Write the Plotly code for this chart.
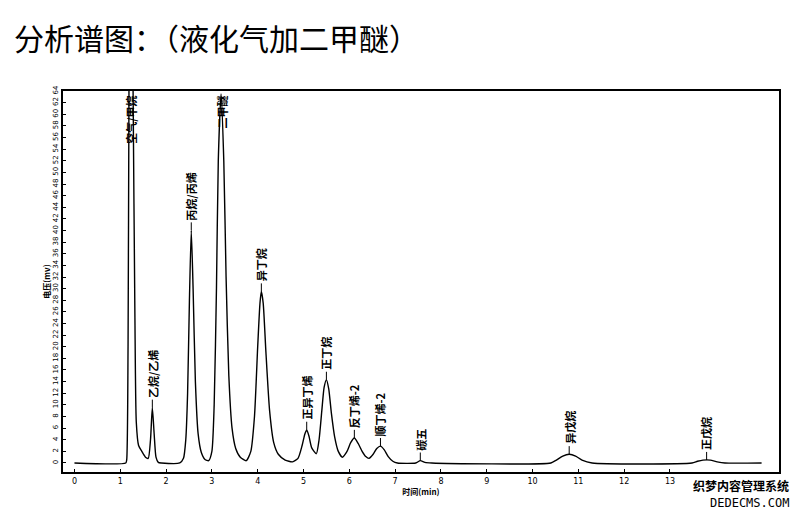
import plotly.graph_objects as go

# Chromatogram trace (time in min, signal in mV)
time_min = [0.00, 1.12, 1.14, 1.17, 1.19, 1.21, 1.26, 1.28, 1.32, 1.35, 1.40, 1.47, 1.55, 1.61,
            1.66, 1.70, 1.74, 1.78, 1.83, 1.90,
            2.30, 2.38, 2.43, 2.47, 2.51, 2.55, 2.59, 2.64, 2.70, 2.77, 2.85, 2.93,
            3.00, 3.05, 3.10, 3.14, 3.20, 3.26, 3.31, 3.37, 3.44, 3.52, 3.62, 3.75,
            3.85, 3.93, 4.00, 4.05, 4.08, 4.12, 4.18, 4.26, 4.35, 4.45, 4.60, 4.76,
            4.88, 4.97, 5.03, 5.07, 5.12, 5.18, 5.28,
            5.34, 5.40, 5.45, 5.50, 5.55, 5.61, 5.68, 5.76, 5.85,
            5.95, 6.03, 6.11, 6.19, 6.28, 6.36, 6.43,
            6.52, 6.60, 6.68, 6.76, 6.85, 6.95, 7.05,
            7.45, 7.55, 7.65, 7.80,
            10.40, 10.52, 10.66, 10.80, 10.94, 11.08, 11.30,
            13.48, 13.60, 13.72, 13.88, 14.03, 14.20, 15.00]
signal_mv = [0.0, 0.0, 0.5, 20.0, 64.0, 85.0, 85.0, 64.0, 25.0, 7.0, 3.0, 2.0, 1.0, 0.8,
             4.0, 9.5, 5.0, 1.0, 0.1, 0.0,
             0.0, 0.8, 4.0, 12.0, 28.0, 40.0, 30.0, 14.0, 5.0, 1.8, 0.6, 0.4,
             2.0, 10.0, 30.0, 52.0, 63.5, 52.0, 32.0, 15.0, 6.0, 2.5, 1.0, 0.4,
             2.0, 8.0, 20.0, 27.5, 29.5, 27.5, 19.0, 9.0, 3.5, 1.5, 0.5, 0.2,
             0.8, 3.0, 5.0, 5.7, 4.6, 2.6, 1.6,
             4.0, 9.0, 13.0, 14.3, 12.8, 8.5, 4.5, 2.0, 1.0,
             2.0, 3.5, 4.3, 3.4, 2.0, 1.1, 0.8,
             1.5, 2.5, 2.9, 2.3, 1.1, 0.3, 0.0,
             0.0, 0.4, 0.1, 0.0,
             0.0, 0.5, 1.2, 1.5, 1.2, 0.5, 0.0,
             0.0, 0.3, 0.5, 0.5, 0.2, 0.0, 0.0]

# Peak labels
peak_names = ["空气/甲烷", "乙烷/乙烯", "丙烷/丙烯", "二甲醚", "异丁烷", "正异丁烯", "正丁烷",
              "反丁烯-2", "顺丁烯-2", "碳五", "异戊烷", "正戊烷"]
peak_times = [1.23, 1.70, 2.55, 3.20, 4.08, 5.07, 5.50, 6.11, 6.68, 7.55, 10.80, 13.80]
peak_heights = [85.0, 9.5, 40.0, 63.5, 29.5, 5.7, 14.3, 4.3, 2.9, 0.4, 1.5, 0.5]

x_ticks = list(range(0, 14))
y_ticks = list(range(0, 65, 2))
Y_TOP = 64.0

fig = go.Figure()
fig.add_trace(go.Scatter(x=time_min, y=signal_mv, mode="lines",
                         line=dict(color="black", width=1.4, shape="spline", smoothing=0.6),
                         hoverinfo="skip", showlegend=False))

lab_font = dict(family="Noto Sans CJK SC", size=11, color="black")
for name, t, h in zip(peak_names, peak_times, peak_heights):
    if h > 55:
        fig.add_annotation(x=t, y=Y_TOP, text="<b>" + name + "</b>", showarrow=False,
                           textangle=-90, yanchor="top", xanchor="center", yshift=-3,
                           font=lab_font)
    else:
        fig.add_shape(type="line", x0=t, x1=t, y0=h, y1=h + 1.4,
                      line=dict(color="black", width=1))
        fig.add_annotation(x=t, y=h + 1.4, text="<b>" + name + "</b>", showarrow=False,
                           textangle=-90, yanchor="bottom", xanchor="center", yshift=0,
                           font=lab_font)

# the page has an 8px body margin, so the margins are set 8px smaller on the left/top
fig.update_layout(
    width=800, height=512,
    paper_bgcolor="white", plot_bgcolor="white",
    margin=dict(l=55, r=29, t=83, b=48),
    xaxis=dict(range=[-0.25, 15.38], tickvals=x_ticks, ticktext=[str(v) for v in x_ticks],
               automargin=False,
               showgrid=False, zeroline=False, showline=True, mirror=True,
               linecolor="black", linewidth=2, ticks="inside", ticklen=3,
               tickcolor="black", tickfont=dict(family="DejaVu Sans", size=8, color="black"),
               title=dict(text="<b>时间(min)</b>", standoff=0,
                          font=dict(family="Noto Sans CJK SC", size=8, color="black"))),
    yaxis=dict(range=[-1.55, Y_TOP], tickvals=y_ticks, ticktext=[str(v) for v in y_ticks],
               automargin=False,
               showgrid=False, zeroline=False, showline=True, mirror=True,
               linecolor="black", linewidth=2, ticks="inside", ticklen=3,
               tickcolor="black", tickangle=-90,
               tickfont=dict(family="DejaVu Sans", size=7, color="black"),
               title=dict(text="<b>电压(mv)</b>", standoff=0,
                          font=dict(family="Noto Sans CJK SC", size=8, color="black"))),
)

# title as a free annotation at the top left
fig.add_annotation(xref="paper", yref="paper", x=(12 - 63) / 716, y=(472 - 37) / 381,
                   xanchor="left", yanchor="middle", showarrow=False,
                   text="分析谱图：（液化气加二甲醚）",
                   font=dict(family="Noto Sans CJK SC", size=30, color="black"))

# watermark text in the corner
fig.add_annotation(xref="paper", yref="paper", x=1.015, y=(472 - 485) / 381,
                   xanchor="right", yanchor="middle", borderpad=0,
                   text="<b>织梦内容管理系统</b>", showarrow=False, bgcolor="white",
                   font=dict(family="Noto Sans CJK SC", size=12, color="black"))
fig.add_annotation(xref="paper", yref="paper", x=1.015, y=(472 - 503) / 381,
                   xanchor="right", yanchor="middle", borderpad=0,
                   text="DEDECMS.COM", showarrow=False, bgcolor="white",
                   font=dict(family="DejaVu Sans Mono", size=12, color="black"))

fig.write_html("out.html")
